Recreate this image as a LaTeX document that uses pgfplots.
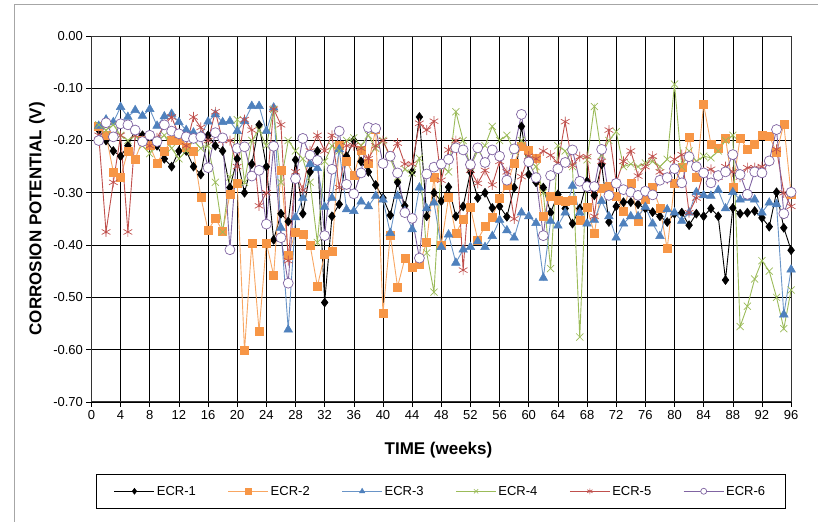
\documentclass[border=0pt]{standalone}
\usepackage{fontspec}
\setmainfont{Liberation Sans}
\usepackage{pgfplots}
\pgfplotsset{compat=1.18}
\usepackage{pgfplotstable}

\definecolor{ecrorange}{HTML}{F79646}
\definecolor{ecrblue}{HTML}{4F81BD}
\definecolor{ecrgreen}{HTML}{9BBB59}
\definecolor{ecrred}{HTML}{C0504D}
\definecolor{ecrpurple}{HTML}{8064A2}

% corrosion potential (V) per week
\pgfplotstableread{
w e1 e2 e3 e4 e5 e6
1 -0.18 -0.172 -0.172 -0.17 -0.19 -0.20
2 -0.20 -0.19 -0.16 -0.18 -0.375 -0.166
3 -0.22 -0.26 -0.165 -0.17 -0.28 -0.193
4 -0.23 -0.27 -0.136 -0.19 -0.19 -0.168
5 -0.21 -0.22 -0.155 -0.20 -0.375 -0.17
6 -0.18 -0.235 -0.142 -0.19 -0.19 -0.18
7 -0.19 -0.20 -0.153 -0.21 -0.20 -0.202
8 -0.20 -0.21 -0.14 -0.225 -0.21 -0.19
9 -0.21 -0.243 -0.172 -0.20 -0.195 -0.202
10 -0.235 -0.22 -0.154 -0.19 -0.17 -0.17
11 -0.25 -0.20 -0.149 -0.215 -0.155 -0.182
12 -0.22 -0.20 -0.165 -0.235 -0.19 -0.187
13 -0.22 -0.212 -0.18 -0.22 -0.21 -0.193
14 -0.25 -0.22 -0.185 -0.20 -0.155 -0.196
15 -0.265 -0.308 -0.19 -0.215 -0.175 -0.193
16 -0.19 -0.372 -0.164 -0.21 -0.20 -0.252
17 -0.21 -0.349 -0.15 -0.28 -0.145 -0.185
18 -0.22 -0.373 -0.165 -0.375 -0.20 -0.195
19 -0.29 -0.303 -0.163 -0.27 -0.20 -0.409
20 -0.235 -0.282 -0.182 -0.16 -0.25 -0.215
21 -0.30 -0.602 -0.163 -0.28 -0.16 -0.212
22 -0.245 -0.397 -0.134 -0.20 -0.18 -0.268
23 -0.17 -0.565 -0.134 -0.18 -0.325 -0.257
24 -0.25 -0.396 -0.182 -0.21 -0.30 -0.36
25 -0.39 -0.458 -0.137 -0.14 -0.14 -0.211
26 -0.34 -0.257 -0.367 -0.28 -0.17 -0.386
27 -0.355 -0.42 -0.562 -0.20 -0.43 -0.473
28 -0.237 -0.375 -0.347 -0.22 -0.26 -0.273
29 -0.34 -0.38 -0.31 -0.235 -0.295 -0.196
30 -0.26 -0.40 -0.245 -0.28 -0.22 -0.228
31 -0.22 -0.479 -0.253 -0.395 -0.19 -0.238
32 -0.51 -0.418 -0.327 -0.24 -0.22 -0.382
33 -0.345 -0.412 -0.31 -0.21 -0.19 -0.255
34 -0.322 -0.209 -0.217 -0.22 -0.29 -0.182
35 -0.23 -0.24 -0.332 -0.20 -0.21 -0.284
36 -0.20 -0.266 -0.335 -0.195 -0.21 -0.302
37 -0.24 -0.218 -0.317 -0.21 -0.215 -0.262
38 -0.26 -0.244 -0.326 -0.19 -0.235 -0.175
39 -0.285 -0.179 -0.306 -0.215 -0.21 -0.177
40 -0.31 -0.531 -0.313 -0.20 -0.20 -0.244
41 -0.343 -0.381 -0.377 -0.234 -0.23 -0.23
42 -0.28 -0.48 -0.306 -0.27 -0.205 -0.262
43 -0.325 -0.426 -0.335 -0.255 -0.245 -0.338
44 -0.26 -0.442 -0.37 -0.262 -0.245 -0.349
45 -0.155 -0.437 -0.29 -0.234 -0.167 -0.425
46 -0.345 -0.394 -0.33 -0.415 -0.18 -0.264
47 -0.30 -0.27 -0.319 -0.49 -0.163 -0.251
48 -0.316 -0.40 -0.404 -0.247 -0.276 -0.245
49 -0.289 -0.309 -0.38 -0.26 -0.218 -0.236
50 -0.345 -0.378 -0.434 -0.145 -0.20 -0.214
51 -0.326 -0.351 -0.409 -0.20 -0.448 -0.218
52 -0.26 -0.328 -0.404 -0.25 -0.257 -0.246
53 -0.31 -0.39 -0.393 -0.22 -0.282 -0.214
54 -0.30 -0.364 -0.404 -0.21 -0.257 -0.242
55 -0.329 -0.347 -0.383 -0.173 -0.285 -0.218
56 -0.326 -0.31 -0.352 -0.20 -0.24 -0.23
57 -0.346 -0.285 -0.372 -0.19 -0.26 -0.276
58 -0.29 -0.243 -0.386 -0.22 -0.35 -0.216
59 -0.173 -0.211 -0.338 -0.20 -0.269 -0.15
60 -0.265 -0.219 -0.345 -0.237 -0.23 -0.241
61 -0.28 -0.234 -0.358 -0.25 -0.235 -0.271
62 -0.29 -0.345 -0.463 -0.30 -0.22 -0.382
63 -0.338 -0.307 -0.354 -0.445 -0.228 -0.267
64 -0.303 -0.314 -0.363 -0.21 -0.244 -0.254
65 -0.33 -0.317 -0.338 -0.22 -0.164 -0.242
66 -0.359 -0.314 -0.287 -0.25 -0.247 -0.218
67 -0.33 -0.352 -0.338 -0.576 -0.231 -0.278
68 -0.278 -0.328 -0.359 -0.237 -0.231 -0.288
69 -0.305 -0.378 -0.352 -0.135 -0.345 -0.288
70 -0.246 -0.291 -0.316 -0.228 -0.24 -0.217
71 -0.356 -0.287 -0.345 -0.20 -0.18 -0.305
72 -0.326 -0.306 -0.386 -0.183 -0.28 -0.282
73 -0.318 -0.335 -0.359 -0.25 -0.24 -0.294
74 -0.318 -0.281 -0.345 -0.245 -0.22 -0.299
75 -0.322 -0.354 -0.345 -0.25 -0.268 -0.305
76 -0.33 -0.313 -0.327 -0.243 -0.25 -0.297
77 -0.337 -0.29 -0.359 -0.24 -0.23 -0.304
78 -0.345 -0.329 -0.383 -0.25 -0.26 -0.276
79 -0.356 -0.407 -0.332 -0.236 -0.274 -0.271
80 -0.34 -0.282 -0.338 -0.092 -0.236 -0.254
81 -0.338 -0.252 -0.354 -0.25 -0.227 -0.281
82 -0.362 -0.193 -0.338 -0.22 -0.338 -0.231
83 -0.34 -0.271 -0.299 -0.24 -0.31 -0.25
84 -0.345 -0.131 -0.305 -0.23 -0.26 -0.262
85 -0.33 -0.207 -0.306 -0.233 -0.255 -0.281
86 -0.345 -0.214 -0.295 -0.22 -0.27 -0.267
87 -0.467 -0.195 -0.33 -0.20 -0.25 -0.26
88 -0.329 -0.29 -0.299 -0.19 -0.26 -0.227
89 -0.34 -0.195 -0.313 -0.556 -0.27 -0.265
90 -0.338 -0.217 -0.31 -0.517 -0.252 -0.303
91 -0.335 -0.207 -0.313 -0.465 -0.252 -0.26
92 -0.348 -0.19 -0.338 -0.43 -0.25 -0.262
93 -0.365 -0.191 -0.319 -0.45 -0.24 -0.239
94 -0.299 -0.223 -0.322 -0.50 -0.217 -0.179
95 -0.367 -0.169 -0.533 -0.56 -0.30 -0.34
96 -0.41 -0.303 -0.447 -0.486 -0.326 -0.299
}\corrdata

\begin{document}
\begin{tikzpicture}
% page size and the chart frame
\path (-91.5pt,-120pt) rectangle (726.5pt,402pt);
\draw[gray!70, line width=0.8pt] (-77pt,-120pt) -- (-77pt,398pt) -- (726.5pt,398pt);

\begin{axis}[
    scale only axis,
    width=700pt, height=366pt,
    xmin=0, xmax=96, ymin=-0.7, ymax=0,
    xtick={0,4,...,96},
    ytick={-0.7,-0.6,-0.5,-0.4,-0.3,-0.2,-0.1,0},
    yticklabel style={/pgf/number format/.cd, fixed, fixed zerofill, precision=2},
    /pgf/number format/assume math mode=true,
    tick label style={font=\fontsize{13}{15}\selectfont},
    xtick pos=left, ytick pos=left,
    tick align=outside, major tick length=5pt,
    tick style={black, line width=0.6pt},
    grid=major,
    major grid style={black, line width=0.6pt},
    axis line style={black!80, line width=0.8pt},
    xlabel={TIME (weeks)},
    ylabel={CORROSION POTENTIAL (V)},
    label style={font=\fontsize{17}{19}\selectfont\bfseries},
    xlabel style={at={(axis description cs:0.496,-0.131)}, anchor=center},
    ylabel style={at={(axis description cs:-0.078,0.5)}, anchor=center},
    legend columns=6,
    legend style={at={(axis description cs:0.499,-0.2445)}, anchor=center,
        draw=black, line width=0.6pt, font=\fontsize{13}{15}\selectfont,
        inner xsep=18pt, inner ysep=10pt,
        /tikz/every even column/.append style={column sep=30pt}},
    legend image code/.code={
        \draw[mark repeat=2, mark phase=2, mark size=3pt]
            plot coordinates {(0pt,0pt) (20pt,0pt) (40pt,0pt)};},
]
\addplot[black, line width=0.9pt, mark=diamond*, mark size=4.5pt,
    mark options={solid, fill=black, line width=0.5pt}]
    table[x=w, y=e1] {\corrdata};
\addlegendentry{ECR-1}
\addplot[ecrorange!85!white, line width=0.9pt, mark=square*, mark size=4pt,
    mark options={solid, draw=ecrorange, fill=ecrorange, line width=0.5pt}]
    table[x=w, y=e2] {\corrdata};
\addlegendentry{ECR-2}
\addplot[ecrblue!85!white, line width=0.9pt, mark=triangle*, mark size=5pt,
    mark options={solid, draw=ecrblue, fill=ecrblue, line width=0.5pt}]
    table[x=w, y=e3] {\corrdata};
\addlegendentry{ECR-3}
\addplot[ecrgreen, line width=0.9pt, mark=x, mark size=5pt,
    mark options={solid, line width=0.7pt}]
    table[x=w, y=e4] {\corrdata};
\addlegendentry{ECR-4}
\addplot[ecrred, line width=0.9pt, mark=asterisk, mark size=5pt,
    mark options={solid, line width=0.7pt}]
    table[x=w, y=e5] {\corrdata};
\addlegendentry{ECR-5}
\addplot[ecrpurple, line width=0.9pt, mark=*, mark size=5pt,
    mark options={solid, fill=white, line width=0.7pt}]
    table[x=w, y=e6] {\corrdata};
\addlegendentry{ECR-6}
\end{axis}
\end{tikzpicture}
\end{document}
